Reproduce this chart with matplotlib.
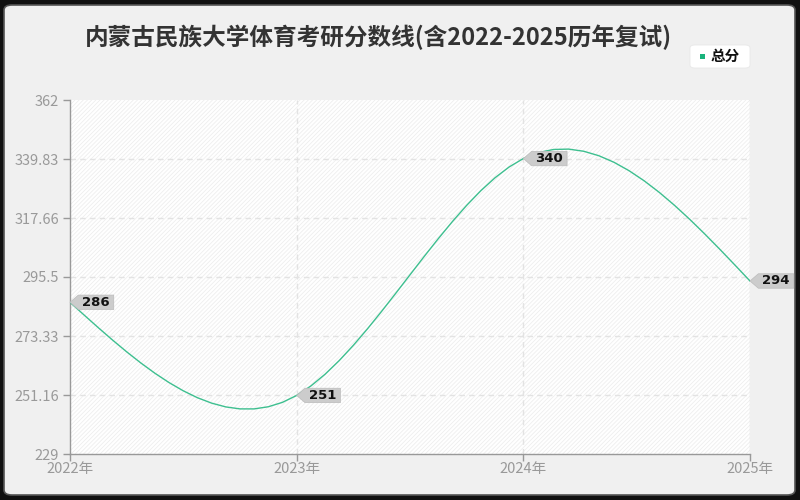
import numpy as np
import matplotlib
matplotlib.use("Agg")
import matplotlib.pyplot as plt
import matplotlib.transforms as mtransforms
from matplotlib.patches import FancyBboxPatch, Polygon, Rectangle

plt.rcParams['font.family'] = ['Noto Sans CJK SC', 'DejaVu Sans']

years = [2022, 2023, 2024, 2025]
year_labels = ["2022年", "2023年", "2024年", "2025年"]
scores = [286, 251, 340, 294]
y_ticks = [229, 251.16, 273.33, 295.5, 317.66, 339.83, 362]
y_tick_labels = ["229", "251.16", "273.33", "295.5", "317.66", "339.83", "362"]
title = "内蒙古民族大学体育考研分数线(含2022-2025历年复试)"
series_name = "总分"

line_color = '#3dbf8f'


def natural_spline(x, y, n=16):
    x = np.asarray(x, float)
    y = np.asarray(y, float)
    k = len(x)
    h = np.diff(x)
    A = np.zeros((k, k))
    r = np.zeros(k)
    A[0, 0] = 1
    A[-1, -1] = 1
    for i in range(1, k - 1):
        A[i, i - 1] = h[i - 1]
        A[i, i] = 2 * (h[i - 1] + h[i])
        A[i, i + 1] = h[i]
        r[i] = 6 * ((y[i + 1] - y[i]) / h[i] - (y[i] - y[i - 1]) / h[i - 1])
    M = np.linalg.solve(A, r)
    xs, ys = [], []
    for i in range(k - 1):
        t = np.linspace(x[i], x[i + 1], n, endpoint=(i == k - 2))
        a = x[i + 1] - t
        b = t - x[i]
        s = (M[i] * a ** 3 + M[i + 1] * b ** 3) / (6 * h[i]) \
            + (y[i] / h[i] - M[i] * h[i] / 6) * a \
            + (y[i + 1] / h[i] - M[i + 1] * h[i] / 6) * b
        xs.extend(t)
        ys.extend(s)
    return np.array(xs), np.array(ys)


plt.rcParams['hatch.linewidth'] = 0.6

fig = plt.figure(figsize=(8, 5), dpi=100, facecolor='#111111')
# rounded background card
card = FancyBboxPatch((4 / 800, 5 / 500), 791 / 800, 490 / 500,
                      boxstyle="round,pad=0,rounding_size=0.01",
                      transform=fig.transFigure, facecolor='#f0f0f0',
                      edgecolor='#555555', linewidth=1.2, zorder=-10)
fig.patches.append(card)

ax = fig.add_axes([70 / 800, 46 / 500, 680 / 800, 354 / 500])
ax.set_zorder(1)
ax.set_facecolor('white')
ax.add_patch(Rectangle((0, 0), 1, 1, transform=ax.transAxes,
                       facecolor='none', edgecolor='#eeeeee', hatch='////////',
                       linewidth=0, zorder=0.1))

ax.set_xlim(years[0], years[-1])
ax.set_ylim(y_ticks[0], y_ticks[-1])

for yt in y_ticks[1:-1]:
    ax.axhline(yt, color='#e3e3e3', linestyle=(0, (4, 3)), linewidth=1, zorder=1)
for xt in years[1:-1]:
    ax.axvline(xt, color='#e3e3e3', linestyle=(0, (4, 3)), linewidth=1, zorder=1)
ax.axvline(years[-1], color='#e0e0e0', linewidth=1, zorder=1)

xs, ys = natural_spline(years, scores)
ax.plot(xs, ys, color=line_color, linewidth=1, zorder=3)

for s in ['top', 'right']:
    ax.spines[s].set_visible(False)
for s in ['left', 'bottom']:
    ax.spines[s].set_color('#999999')
    ax.spines[s].set_linewidth(1)

ax.set_xticks(years)
ax.set_xticklabels(year_labels)
ax.set_yticks(y_ticks)
ax.set_yticklabels(y_tick_labels)
ax.tick_params(axis='both', colors='#999999', labelcolor='#999999',
               labelsize=10.5, length=5, width=1, direction='out')
ax.tick_params(axis='x', pad=1)
ax.tick_params(axis='y', pad=3)

# value callouts
scale = mtransforms.Affine2D().scale(fig.dpi / 72.0)
for x, v in zip(years, scores):
    off = scale + mtransforms.ScaledTranslation(x, v, ax.transData)
    w, hh, tip = 25.5, 5.2, 6.0
    verts = [(0, 0), (tip, hh), (tip + w, hh), (tip + w, -hh), (tip, -hh)]
    ax.add_patch(Polygon(verts, closed=True, transform=off, facecolor='#cccccc',
                         edgecolor='#bbbbbb', linewidth=0.5, zorder=4,
                         clip_on=False))
    ax.text(tip + w / 2, 0, str(v), transform=off, ha='center', va='center',
            fontsize=9.5, fontweight='bold', color='#111111', zorder=5,
            clip_on=False, family=['DejaVu Sans'])

fig.text(378 / 800, 1 - 37 / 500, title, ha='center', va='center',
         fontsize=17, fontweight='bold', color='#333333')

# legend
leg = FancyBboxPatch((690 / 800, 1 - 68 / 500), 60 / 800, 23 / 500,
                     boxstyle="round,pad=0,rounding_size=0.006",
                     transform=fig.transFigure, facecolor='white',
                     edgecolor='#e8e8e8', linewidth=0.6, zorder=2)
fig.patches.append(leg)
fig.patches.append(Rectangle((700 / 800, 1 - 59 / 500), 5 / 800, 5 / 500,
                             transform=fig.transFigure, facecolor='#19b37c',
                             edgecolor='none', zorder=3))
fig.text(711 / 800, 1 - 56 / 500, series_name, ha='left', va='center',
         fontsize=10.5, fontweight='bold', color='#111111', zorder=4)

fig.savefig('out.png', dpi=100, facecolor=fig.get_facecolor())
